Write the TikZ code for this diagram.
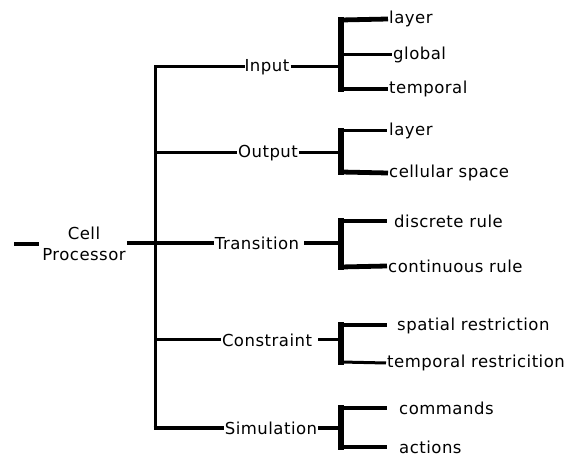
\documentclass[tikz,border=0pt]{standalone}
\usepackage{fontspec}
\newfontfamily\labfont[LetterSpace=3]{DejaVu Sans}
\begin{document}
\begin{tikzpicture}[x=1pt,y=-1pt,
  lab/.style={font=\labfont\fontsize{16.5}{20}\selectfont, inner sep=1pt, anchor=west},
  mid/.style={font=\labfont\fontsize{16.5}{20}\selectfont, inner sep=1pt},
  thin/.style={line width=3pt},
  thk/.style={line width=4.8pt},
  brk/.style={line width=5.5pt}]
\useasboundingbox (0,0) rectangle (574,457);
% root
\node[mid, align=center] (cell) at (84,244) {Cell\\[1pt]Processor};
\coordinate (stub) at (14,244);
% main spine
\coordinate (jTop) at (155,67);
\coordinate (jOut) at (155,153);
\coordinate (jTr) at (155,243);
\coordinate (jCon) at (155,340);
\coordinate (jBot) at (155,428);
% second level
\node[mid] (inp) at (267,67) {Input};
\node[mid] (out) at (268,153) {Output};
\node[mid] (tr) at (257,243) {Transition};
\node[mid] (con) at (267,340) {Constraint};
\node[mid] (sim) at (271,428) {Simulation};
% bracket coordinates
\coordinate (iJ) at (341,67); \coordinate (iT) at (341,20); \coordinate (iB) at (341,89);
\coordinate (oJ) at (341,153); \coordinate (oT) at (341,131); \coordinate (oB) at (341,172);
\coordinate (tJ) at (341,243); \coordinate (tT) at (341,221); \coordinate (tB) at (341,267);
\coordinate (cJ) at (341,340); \coordinate (cT) at (341,325); \coordinate (cB) at (341,362);
\coordinate (sJ) at (341,428); \coordinate (sT) at (341,408); \coordinate (sB) at (341,447);
% leaves
\node[lab] (l1) at (388,19) {layer};
\node[lab] (l2) at (392,55) {global};
\node[lab] (l3) at (388,89) {temporal};
\node[lab] (l4) at (388,131) {layer};
\node[lab] (l5) at (388,173) {cellular space};
\node[lab] (l6) at (393,221) {discrete rule};
\node[lab] (l7) at (387,266) {continuous rule};
\node[lab] (l8) at (396,326) {spatial restriction};
\node[lab] (l9) at (386,363) {temporal restricition};
\node[lab] (l10) at (398,408) {commands};
\node[lab] (l11) at (398,447) {actions};
% connectors
\draw[thk] (stub) -- ([xshift=-2pt]cell.west |- stub);
\draw[thk] (cell.east |- jTr) -- (jTr) -- (tr.west);
\draw[thin] (jTop) -- (jBot);
\draw[thin, line cap=rect] (jTop) -- (inp.west);
\draw[thin] (jOut) -- (out.west);
\draw[thin] (jCon) -- (con.west);
\draw[thk] ([xshift=-1.5pt]jBot) -- (sim.west);
\draw[thin] (inp.east) -- (iJ);
\draw[thin] (out.east) -- (oJ);
\draw[thk] (tr.east) ++(4,0) -- (tJ);
\draw[thin] (con.east) ++(5,0) -- (cJ);
\draw[thk] (sim.east) -- (sJ);
\begin{scope}[line cap=rect]
\draw[brk] (iT) -- (iB);
\draw[brk] (oT) -- (oB);
\draw[brk] (tT) -- (tB);
\draw[brk] (cT) -- (cB);
\draw[brk] (sT) -- (sB);
\end{scope}
\draw[thk] (iT) -- (l1.west);
\draw[thin] (iJ |- l2) -- (l2.west);
\draw[thk] (iB) -- (l3.west);
\draw[thin] (oT) -- (l4.west -| 387,0);
\draw[thk] (oB) -- (l5.west);
\draw[thk] (tT) -- (387,221);
\draw[thk] (tB) -- (l7.west);
\draw[thk] (cT) -- (387,325);
\draw[thin] (cB) -- (l9.west);
\draw[thk] (sT) -- (387,408);
\draw[thk] (sB) -- (387,447);
\end{tikzpicture}
\end{document}
